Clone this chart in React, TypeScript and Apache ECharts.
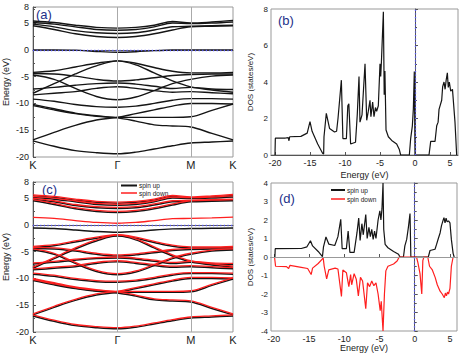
import React, { useEffect, useRef } from "react";
import * as echarts from "echarts";

// k-path K-Γ-M-K (hexagonal BZ distances, arbitrary units)
const kPts = [0, 0.333, 0.667, 1.0, 1.333, 1.622, 1.911, 2.2, 2.488, 2.822, 3.155];
const kTickPos = [0, 1.333, 2.488, 3.155];
const kTickLabels = ["K", "Γ", "M", "K"];

// (a) band energies (eV) at kPts
const bandsA: number[][] = [
  [5.4, 5.1, 4.6, 4.2, 4.05, 4.2, 4.6, 5.3, 5.0, 5.2, 5.5],
  [5.1, 4.8, 4.3, 3.8, 3.65, 3.8, 4.3, 5.0, 4.9, 5.0, 5.2],
  [4.8, 4.3, 3.6, 3.2, 3.05, 3.2, 3.7, 4.3, 4.4, 4.5, 4.6],
  [4.5, 3.8, 3.0, 2.5, 2.3, 2.5, 3.0, 3.7, 4.3, 4.4, 4.5],
  [-4.2, -3.9, -3.2, -2.5, -2.05, -2.5, -3.3, -4.0, -4.3, -4.3, -4.2],
  [-8.1, -6.3, -4.5, -3.0, -2.05, -2.8, -4.3, -5.8, -6.9, -7.5, -7.9],
  [-4.4, -4.5, -4.9, -5.5, -5.8, -5.6, -5.2, -4.8, -4.6, -4.5, -4.5],
  [-4.7, -5.5, -7.2, -8.7, -9.3, -8.8, -7.6, -6.3, -5.5, -4.9, -4.7],
  [-7.3, -7.0, -6.6, -6.3, -6.2, -6.4, -6.8, -7.2, -7.0, -7.3, -7.4],
  [-8.4, -8.1, -7.8, -7.2, -6.9, -7.2, -7.6, -7.9, -7.8, -8.0, -8.2],
  [-9.2, -9.6, -10.2, -10.6, -10.7, -10.5, -10.0, -9.4, -9.1, -9.1, -9.2],
  [-10.2, -11.0, -11.8, -12.3, -12.6, -12.6, -12.6, -12.6, -12.5, -11.3, -10.1],
  [-16.8, -15.4, -14.1, -13.1, -12.6, -11.9, -11.2, -10.5, -10.0, -10.0, -10.1],
  [-10.4, -11.2, -11.9, -12.4, -12.7, -13.3, -14.0, -14.2, -14.4, -15.6, -16.8],
  [-17.0, -18.0, -18.8, -19.2, -19.4, -19.1, -18.5, -17.9, -17.4, -17.2, -17.0],
];
const fermiBandA = [0, 0, -0.05, -0.3, -0.45, -0.35, -0.15, -0.02, 0, 0, 0];

// (c) spin-polarized bands
const fermiBandUp = [-0.6, -0.7, -0.95, -1.25, -1.4, -1.25, -0.95, -0.75, -0.7, -0.65, -0.6];
const fermiBandDown = [1.4, 1.2, 0.8, 0.45, 0.3, 0.45, 0.8, 1.15, 1.2, 1.3, 1.45];
const bandsDown: number[][] = [
  [5.6, 5.3, 4.8, 4.4, 4.25, 4.4, 4.8, 5.5, 5.2, 5.4, 5.7],
  [5.3, 5.0, 4.5, 4.0, 3.85, 4.0, 4.5, 5.2, 5.1, 5.2, 5.4],
  [5.0, 4.5, 3.8, 3.4, 3.25, 3.4, 3.9, 4.5, 4.6, 4.7, 4.8],
  [4.7, 4.0, 3.2, 2.7, 2.5, 2.7, 3.2, 3.9, 4.5, 4.6, 4.7],
  [-4.0, -3.7, -3.0, -2.3, -1.85, -2.3, -3.1, -3.8, -4.1, -4.1, -4.0],
  [-7.9, -6.1, -4.3, -2.8, -1.85, -2.6, -4.1, -5.6, -6.7, -7.3, -7.7],
  [-4.2, -4.3, -4.7, -5.3, -5.6, -5.4, -5.0, -4.6, -4.4, -4.3, -4.3],
  [-4.5, -5.3, -7.0, -8.5, -9.1, -8.6, -7.4, -6.1, -5.3, -4.7, -4.5],
  [-7.1, -6.8, -6.4, -6.1, -6.0, -6.2, -6.6, -7.0, -6.8, -7.1, -7.2],
  [-8.2, -7.9, -7.6, -7.0, -6.7, -7.0, -7.4, -7.7, -7.6, -7.8, -8.0],
  [-9.0, -9.4, -10.0, -10.4, -10.5, -10.3, -9.8, -9.2, -8.9, -8.9, -9.0],
  [-10.0, -10.8, -11.6, -12.1, -12.4, -12.4, -12.4, -12.4, -12.3, -11.1, -9.9],
  [-16.6, -15.2, -13.9, -12.9, -12.4, -11.7, -11.0, -10.3, -9.8, -9.8, -9.9],
  [-10.2, -11.0, -11.7, -12.2, -12.5, -13.1, -13.8, -14.0, -14.2, -15.4, -16.6],
  [-16.8, -17.8, -18.6, -19.0, -19.2, -18.9, -18.3, -17.7, -17.2, -17.0, -16.8],
];

// (b) total DOS: [energy, states/eV]
const dosTotal: number[][] = [
  [-20.0, 0], [-19.95, 0.92], [-18.5, 0.93], [-18.1, 0.95], [-18.0, 0.78], [-17.9, 1.0],
  [-16.3, 1.02], [-15.4, 1.2], [-15.0, 1.83], [-14.7, 1.3], [-13.9, 0.6], [-13.2, 0.1],
  [-13.05, 0.05], [-13.0, 1.0], [-12.67, 2.28], [-12.2, 1.45], [-11.5, 1.26], [-11.2, 1.3],
  [-11.0, 2.0], [-10.52, 4.1], [-10.3, 0.9], [-9.8, 0.9], [-9.6, 2.7], [-9.45, 2.8],
  [-9.2, 0.6], [-8.5, 0.7], [-8.25, 2.2], [-8.0, 4.3], [-7.86, 1.8], [-7.57, 2.2],
  [-7.14, 5.0], [-6.9, 1.9], [-6.67, 2.4], [-6.43, 3.0], [-6.3, 2.1], [-6.05, 2.9],
  [-5.86, 2.1], [-5.65, 2.6], [-5.48, 2.4], [-5.24, 2.7], [-5.0, 5.0], [-4.9, 4.3],
  [-4.8, 5.1], [-4.52, 7.85], [-4.4, 3.3], [-4.3, 4.6], [-4.14, 1.37], [-3.81, 1.0],
  [-3.33, 0.8], [-2.62, 0.6], [-2.24, 0.3], [-2.05, 0], [-0.81, 0], [-0.62, 0.9],
  [-0.38, 1.6], [-0.24, 2.5], [-0.1, 4.57], [0.0, 0], [2.0, 0], [2.24, 0.75],
  [2.86, 0.75], [3.1, 1.6], [3.3, 1.8], [3.43, 2.5], [3.81, 3.0], [3.95, 3.75],
  [4.14, 4.0], [4.3, 3.6], [4.45, 4.1], [4.62, 4.5], [4.75, 3.7], [4.9, 4.0],
  [5.1, 3.5], [5.35, 3.6], [5.71, 1.8], [5.95, 0],
];

// (d) spin-resolved DOS
const dosUp: number[][] = [
  [-19.85, 0], [-19.8, 0.45], [-16.1, 0.46], [-15.3, 0.55], [-14.8, 0.88], [-14.5, 0.6],
  [-13.7, 0.3], [-13.1, 0.02], [-12.95, 0.55], [-12.6, 1.08], [-12.2, 0.7], [-11.35, 0.62],
  [-10.9, 1.1], [-10.5, 2.04], [-10.3, 0.45], [-9.7, 0.45], [-9.45, 1.4], [-9.2, 0.25],
  [-8.6, 0.25], [-8.2, 1.3], [-7.95, 2.1], [-7.75, 0.9], [-7.5, 1.8], [-7.3, 1.2],
  [-6.95, 2.3], [-6.75, 1.0], [-6.5, 1.6], [-6.3, 1.1], [-6.1, 1.5], [-5.9, 0.95],
  [-5.7, 1.4], [-5.5, 1.0], [-5.2, 2.0], [-4.95, 2.5], [-4.8, 2.0], [-4.65, 2.6],
  [-4.5, 4.0], [-4.4, 1.5], [-4.2, 0.68], [-3.8, 0.5], [-3.0, 0.3], [-2.3, 0.15],
  [-2.1, 0], [-1.6, 0], [-1.4, 0.6], [-1.14, 0.95], [-0.9, 1.6], [-0.67, 2.35],
  [-0.55, 0], [1.93, 0], [2.17, 0.35], [2.88, 0.42], [3.1, 0.68], [3.35, 1.0],
  [3.6, 1.3], [3.8, 1.7], [4.0, 1.95], [4.15, 2.13], [4.3, 1.85], [4.45, 2.1],
  [4.6, 1.9], [4.8, 1.95], [5.0, 1.85], [5.2, 0.95], [5.45, 0.2], [5.6, 0],
];
const dosDown: number[][] = [
  [-19.9, 0], [-19.75, -0.5], [-18.2, -0.52], [-17.9, -0.62], [-17.7, -0.45], [-16.1, -0.56],
  [-15.2, -0.62], [-14.7, -0.95], [-14.5, -0.6], [-13.7, -0.35], [-13.1, -0.1], [-13.0, -0.02],
  [-12.85, -0.5], [-12.5, -1.18], [-12.2, -0.7], [-11.3, -0.6], [-10.9, -0.65], [-10.4, -2.13],
  [-10.2, -0.7], [-9.7, -0.85], [-9.35, -1.6], [-9.1, -0.95], [-8.95, -1.5], [-8.6, -0.9],
  [-8.3, -1.2], [-8.0, -2.1], [-7.7, -1.1], [-7.4, -1.3], [-6.95, -2.8], [-6.7, -1.4],
  [-6.4, -1.6], [-6.1, -1.3], [-5.8, -1.55], [-5.5, -1.4], [-5.2, -2.0], [-4.9, -2.9],
  [-4.75, -2.4], [-4.5, -4.0], [-4.3, -2.0], [-4.1, -0.75], [-3.8, -0.5], [-3.0, -0.38],
  [-2.5, -0.22], [-2.2, 0], [0.25, 0], [0.45, -0.3], [0.75, -0.9], [1.0, -2.0],
  [1.15, -0.2], [1.3, 0], [1.85, 0], [2.1, -0.5], [2.5, -0.7], [2.9, -1.1],
  [3.2, -1.5], [3.6, -1.85], [3.9, -2.0], [4.2, -2.2], [4.35, -1.95], [4.5, -2.1],
  [4.65, -1.9], [4.8, -2.0], [5.0, -1.7], [5.2, -0.5], [5.45, 0],
];

const dosTicks = [-20, -15, -10, -5, 0, 5];

const FONT = "Liberation Sans, Arial, sans-serif";
const AXIS_COLOR = "#555";
const LABEL_COLOR = "#222";
const BLACK = "#151515";
const RED = "#ff1f1f";
const BLUE = "#5a5aff";

function bandSeries(band: number[], idx: number, color: string, width: number) {
  return {
    type: "line",
    xAxisIndex: idx,
    yAxisIndex: idx,
    data: kPts.map((k, i) => [k, band[i]]),
    smooth: 0.35,
    showSymbol: false,
    symbol: "none",
    lineStyle: { color, width },
    silent: true,
  };
}

function bandGuides(idx: number) {
  return {
    type: "line",
    xAxisIndex: idx,
    yAxisIndex: idx,
    data: [],
    markLine: {
      silent: true,
      symbol: "none",
      label: { show: false },
      data: [
        { xAxis: kTickPos[1], lineStyle: { color: "#aaa", width: 1, type: "solid" } },
        { xAxis: kTickPos[2], lineStyle: { color: "#aaa", width: 1, type: "solid" } },
      ],
    },
  };
}

function zeroDotted(idx: number) {
  return {
    type: "line",
    xAxisIndex: idx,
    yAxisIndex: idx,
    data: [],
    z: 5,
    markLine: {
      silent: true,
      symbol: "none",
      label: { show: false },
      data: [{ yAxis: 0, lineStyle: { color: BLUE, width: 1.3, type: [1.2, 2.4] } }],
    },
  };
}

function bandXAxis(idx: number) {
  return {
    type: "value",
    gridIndex: idx,
    min: 0,
    max: 3.155,
    axisLine: { lineStyle: { color: AXIS_COLOR } },
    axisTick: { show: false },
    splitLine: { show: false },
    axisLabel: {
      customValues: kTickPos,
      formatter: (v: number) => {
        const i = kTickPos.findIndex((p) => Math.abs(p - v) < 1e-6);
        return i >= 0 ? kTickLabels[i] : "";
      },
      fontSize: 11,
      fontFamily: FONT,
      color: LABEL_COLOR,
      margin: 2,
    },
  };
}

function bandYAxis(idx: number) {
  return {
    type: "value",
    gridIndex: idx,
    min: -20,
    max: 8,
    interval: 5,
    name: "Energy (eV)",
    nameLocation: "middle",
    nameGap: 23,
    nameTextStyle: { fontSize: 9, fontFamily: FONT, color: LABEL_COLOR },
    axisLine: { lineStyle: { color: AXIS_COLOR } },
    axisTick: { inside: true, length: 3, lineStyle: { color: AXIS_COLOR } },
    minorTick: { show: true, splitNumber: 2, length: 2, lineStyle: { color: AXIS_COLOR } },
    splitLine: { show: false },
    axisLabel: { fontSize: 9, fontFamily: FONT, color: LABEL_COLOR, margin: 4 },
  };
}

function dosXAxis(idx: number, min: number, max: number, nameGap: number) {
  return {
    type: "value",
    gridIndex: idx,
    min,
    max,
    name: "Energy (eV)",
    nameLocation: "middle",
    nameGap,
    nameTextStyle: { fontSize: 9, fontFamily: FONT, color: LABEL_COLOR, verticalAlign: "top" },
    axisLine: { lineStyle: { color: AXIS_COLOR } },
    axisTick: { inside: true, length: 3, customValues: dosTicks, lineStyle: { color: AXIS_COLOR } },
    splitLine: { show: false },
    axisLabel: { customValues: dosTicks, fontSize: 9, fontFamily: FONT, color: LABEL_COLOR, margin: 3 },
  };
}

function dosYAxis(idx: number, min: number, max: number, interval: number) {
  return {
    type: "value",
    gridIndex: idx,
    min,
    max,
    interval,
    name: "DOS (states/eV)",
    nameLocation: "middle",
    nameGap: 17,
    nameTextStyle: { fontSize: 8, fontFamily: FONT, color: LABEL_COLOR },
    axisLine: { lineStyle: { color: AXIS_COLOR } },
    axisTick: { inside: true, length: 3, lineStyle: { color: AXIS_COLOR } },
    minorTick: { show: true, splitNumber: 2, length: 2, lineStyle: { color: AXIS_COLOR } },
    splitLine: { show: false },
    axisLabel: { fontSize: 8, fontFamily: FONT, color: LABEL_COLOR, margin: 3 },
  };
}

export default function App() {
  const ref = useRef<HTMLDivElement>(null);
  useEffect(() => {
    if (!ref.current) return;
    const chart = echarts.init(ref.current, undefined, { renderer: "svg" });

    const series: any[] = [];
    // (a)
    series.push(bandGuides(0));
    bandsA.forEach((b) => series.push(bandSeries(b, 0, BLACK, 1.4)));
    series.push(bandSeries(fermiBandA, 0, BLACK, 1.4));
    series.push(zeroDotted(0));
    // (c)
    series.push(bandGuides(2));
    bandsA.forEach((b) => series.push(bandSeries(b, 2, BLACK, 1.5)));
    series.push(bandSeries(fermiBandUp, 2, BLACK, 1.5));
    bandsDown.forEach((b) => series.push(bandSeries(b, 2, RED, 1.3)));
    series.push(bandSeries(fermiBandDown, 2, RED, 1.3));
    series.push(zeroDotted(2));
    // (b)
    series.push({
      type: "line",
      xAxisIndex: 1,
      yAxisIndex: 1,
      data: dosTotal,
      showSymbol: false,
      symbol: "none",
      lineStyle: { color: BLACK, width: 1.2 },
      markLine: {
        silent: true,
        symbol: "none",
        label: { show: false },
        data: [{ xAxis: 0, lineStyle: { color: BLUE, width: 1.3, type: [1.2, 2.4] } }],
      },
    });
    // (d)
    series.push({
      type: "line",
      xAxisIndex: 3,
      yAxisIndex: 3,
      data: dosUp,
      showSymbol: false,
      symbol: "none",
      lineStyle: { color: BLACK, width: 1.2 },
      markLine: {
        silent: true,
        symbol: "none",
        label: { show: false },
        data: [
          { yAxis: 0, lineStyle: { color: "#999", width: 1, type: "solid" } },
          { xAxis: 0, lineStyle: { color: BLUE, width: 1.3, type: [1.2, 2.4] } },
        ],
      },
    });
    series.push({
      type: "line",
      xAxisIndex: 3,
      yAxisIndex: 3,
      data: dosDown,
      showSymbol: false,
      symbol: "none",
      lineStyle: { color: RED, width: 1.2 },
    });

    const labelStyle = { fontSize: 13, fontFamily: FONT, fill: "#23308a" };
    const legendText = { fontSize: 6.5, fontFamily: FONT, fill: "#222", verticalAlign: "middle" };

    chart.setOption({
      animation: false,
      backgroundColor: "#fff",
      grid: [
        { left: 33, top: 7, width: 200, height: 150, show: true, borderColor: "#999", borderWidth: 1 },
        { left: 271, top: 9, width: 187, height: 146, show: true, borderColor: "#999", borderWidth: 1 },
        { left: 33, top: 182, width: 200, height: 150, show: true, borderColor: "#999", borderWidth: 1 },
        { left: 271, top: 183, width: 186, height: 148, show: true, borderColor: "#999", borderWidth: 1 },
      ],
      xAxis: [bandXAxis(0), dosXAxis(1, -20.57, 6.14, 15), bandXAxis(2), dosXAxis(3, -20.4, 6.0, 12)],
      yAxis: [bandYAxis(0), dosYAxis(1, 0, 8, 2), bandYAxis(2), dosYAxis(3, -4, 4, 1)],
      series,
      graphic: [
        { type: "text", left: 36, top: 8, style: { text: "(a)", ...labelStyle } },
        { type: "text", left: 278, top: 14, style: { text: "(b)", ...labelStyle } },
        { type: "text", left: 42, top: 183, style: { text: "(c)", ...labelStyle } },
        { type: "text", left: 279, top: 192, style: { text: "(d)", ...labelStyle } },
        // legend (c)
        { type: "line", shape: { x1: 121, y1: 185.5, x2: 137, y2: 185.5 }, style: { stroke: BLACK, lineWidth: 2 } },
        { type: "text", x: 139, y: 185, style: { text: "spin up", ...legendText } },
        { type: "line", shape: { x1: 121, y1: 193, x2: 137, y2: 193 }, style: { stroke: RED, lineWidth: 1.5 } },
        { type: "text", x: 139, y: 193, style: { text: "spin down", ...legendText } },
        // legend (d)
        { type: "line", shape: { x1: 331, y1: 190, x2: 345, y2: 190 }, style: { stroke: BLACK, lineWidth: 2 } },
        { type: "text", x: 347, y: 190, style: { text: "spin up", ...legendText } },
        { type: "line", shape: { x1: 331, y1: 199, x2: 345, y2: 199 }, style: { stroke: RED, lineWidth: 1.5 } },
        { type: "text", x: 347, y: 199, style: { text: "spin down", ...legendText } },
      ],
    });
    return () => chart.dispose();
  }, []);
  return (
    <div
      ref={ref}
      style={{ position: "absolute", left: 0, top: 0, width: 463, height: 356 }}
    />
  );
}
